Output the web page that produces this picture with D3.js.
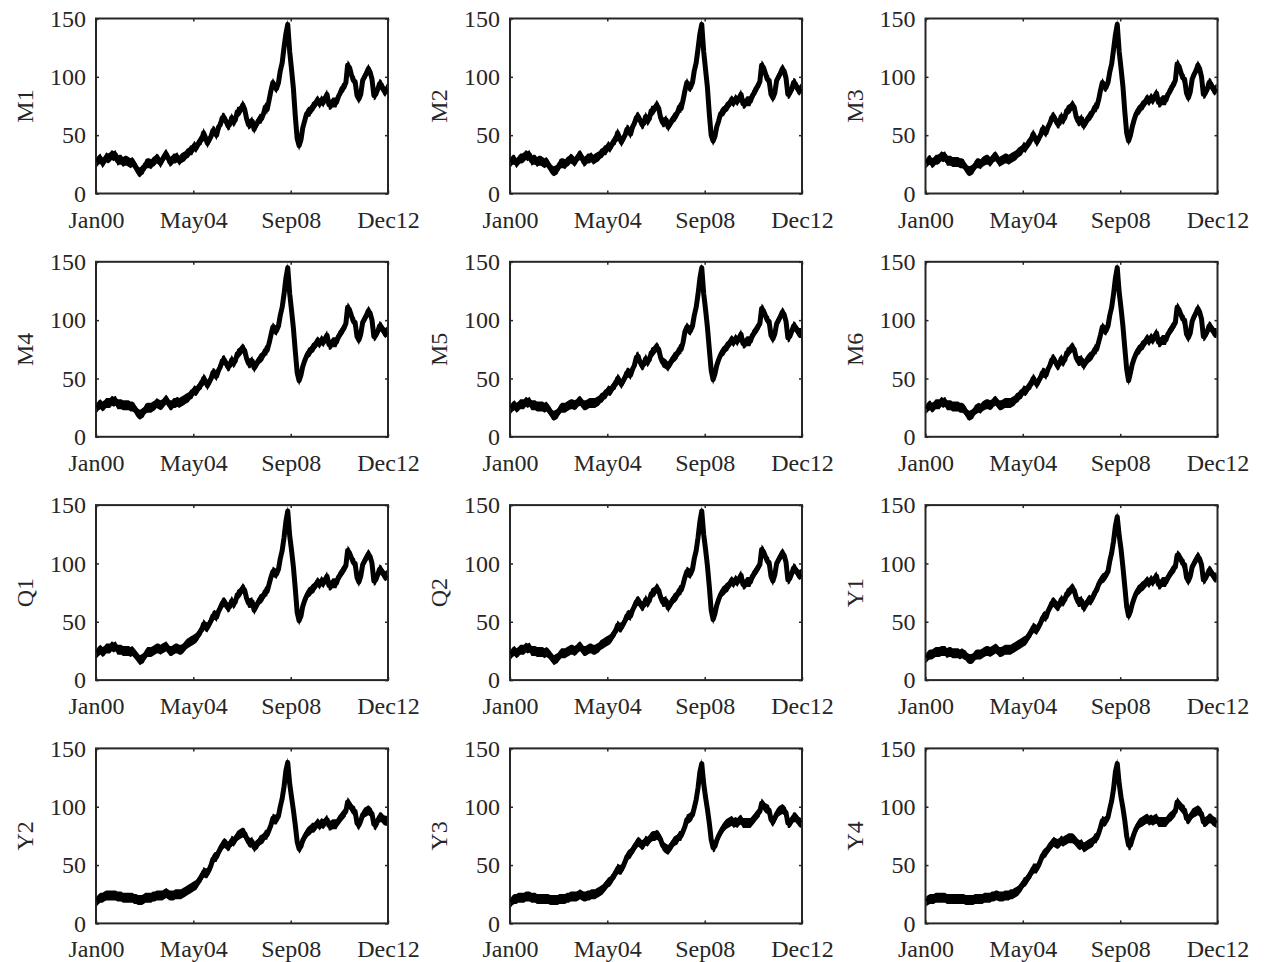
<!DOCTYPE html>
<html>
<head>
<meta charset="utf-8">
<script src="https://cdn.jsdelivr.net/npm/d3@7"></script>
<style>
  body { margin: 0; background: #fff; }
</style>
</head>
<body>
<div id="chart"></div>
<script>
// Monthly values, Jan 2000 .. Dec 2012 (one row per year)
var M1 = [
  27,29,30,26,28,31,30,31,33,32,33,28,
  29,29,27,28,28,27,26,27,25,22,19,18,
  20,21,25,26,26,25,27,28,30,29,26,29,
  32,34,31,27,28,30,30,31,28,30,31,32,
  34,35,37,37,41,39,42,45,46,52,48,43,
  46,49,54,53,50,57,59,65,65,62,58,59,
  65,61,63,70,70,72,76,72,64,59,60,62,
  55,59,61,64,64,68,74,72,80,88,95,92,
  90,95,105,112,125,137,145,122,106,90,66,47,
  41,46,56,62,68,70,70,74,75,78,80,77,
  80,78,82,85,76,76,78,78,78,83,86,90,
  91,95,110,108,102,97,96,84,81,85,97,100,
  103,107,104,98,84,85,89,94,93,89,87,90];

var M2 = [
  27,29,29,26,28,30,30,31,33,32,33,28,
  29,29,27,28,28,27,26,27,25,22,20,19,
  20,21,25,26,26,25,27,28,30,29,27,29,
  32,33,31,27,28,30,30,31,29,30,31,32,
  34,35,37,37,41,39,42,45,46,52,48,44,
  47,50,55,54,51,57,60,65,66,63,59,60,
  66,62,64,71,71,73,76,73,65,61,61,63,
  57,60,62,65,66,69,74,73,80,88,95,92,
  91,95,105,112,124,137,145,122,106,91,68,50,
  45,49,57,62,68,70,71,74,75,78,80,78,
  81,79,82,85,77,77,79,79,79,84,86,90,
  92,96,110,108,103,98,97,85,82,86,97,100,
  103,107,105,99,85,86,89,95,94,90,88,90];

var M3 = [
  26,28,29,26,27,29,29,30,32,31,32,28,
  28,28,27,27,27,27,26,26,25,22,20,19,
  20,21,24,26,26,25,27,28,29,29,27,29,
  31,32,30,27,28,29,30,30,29,30,31,32,
  33,35,36,37,40,39,42,44,46,51,48,44,
  47,50,55,54,52,57,60,65,66,63,60,60,
  66,63,65,71,72,73,76,74,66,62,62,64,
  58,61,63,66,67,70,74,74,80,88,95,92,
  91,95,104,111,123,136,145,122,107,92,70,52,
  45,50,57,63,68,71,72,75,76,79,81,79,
  82,80,83,86,78,78,80,80,80,85,87,91,
  93,97,111,109,104,99,98,86,82,87,98,102,
  105,110,107,100,85,86,89,95,94,90,88,90];

var M4 = [
  25,27,28,26,27,29,29,29,31,30,31,28,
  28,28,27,27,27,27,26,26,25,22,20,19,
  20,21,24,25,25,25,26,27,29,28,27,28,
  30,32,30,27,27,29,29,30,29,30,31,32,
  33,34,36,37,40,39,41,44,45,50,48,44,
  47,50,55,54,52,57,60,65,66,63,60,61,
  66,63,65,71,72,74,76,74,67,63,63,65,
  59,62,64,67,68,70,74,74,80,87,94,92,
  91,95,104,111,122,136,145,123,108,93,73,55,
  48,53,60,65,69,72,73,76,77,80,82,80,
  83,81,84,87,79,79,81,81,81,86,88,91,
  93,97,111,109,104,99,98,86,83,88,98,101,
  104,108,106,100,86,87,90,95,94,91,89,90];

var M5 = [
  24,26,27,25,26,28,28,28,30,29,30,27,
  27,27,26,26,26,26,25,26,24,22,19,18,
  19,20,23,25,25,25,26,27,28,28,27,28,
  30,31,29,27,27,28,29,29,29,29,30,31,
  33,34,36,37,40,39,41,44,45,50,48,45,
  48,51,55,55,53,58,61,68,69,64,61,62,
  67,64,66,72,73,75,77,75,68,64,63,62,
  60,63,65,68,69,71,75,75,81,90,94,92,
  91,95,104,111,122,136,145,123,109,94,75,57,
  49,54,61,66,70,73,74,77,78,81,83,81,
  84,82,85,88,80,80,82,82,82,87,89,92,
  94,97,110,108,104,100,99,87,84,88,97,100,
  103,107,105,99,85,86,90,95,94,91,89,89];

var M6 = [
  24,26,27,25,26,28,28,28,30,29,30,27,
  27,27,26,26,26,26,25,25,24,22,19,18,
  19,20,23,24,25,24,26,27,28,28,27,28,
  30,31,29,27,27,28,29,29,29,29,30,31,
  33,34,36,37,40,39,41,44,45,50,48,45,
  48,51,55,55,53,58,61,66,67,64,61,62,
  67,64,66,72,73,75,77,75,68,65,65,66,
  61,64,66,68,69,71,75,75,81,87,94,92,
  91,95,104,111,122,136,145,124,110,95,76,58,
  48,55,62,67,71,74,75,78,79,82,84,82,
  85,83,86,89,81,81,83,83,83,88,90,93,
  95,98,111,109,105,101,100,88,85,89,99,103,
  106,110,107,101,86,87,90,95,94,91,89,89];

var Q1 = [
  23,25,26,24,25,27,27,27,29,28,29,26,
  26,26,25,25,25,25,24,25,23,21,19,17,
  18,19,22,24,24,24,25,26,27,27,26,27,
  28,29,27,25,25,26,27,27,26,26,27,29,
  31,32,33,34,35,36,38,41,43,48,46,45,
  48,51,55,56,54,59,62,66,67,65,62,63,
  68,65,67,73,74,76,79,77,70,66,66,67,
  60,63,66,69,70,72,76,76,82,88,93,92,
  91,95,104,111,122,136,145,124,111,97,78,58,
  51,55,63,68,72,75,76,78,79,82,84,82,
  85,83,86,89,81,81,83,83,83,88,90,93,
  95,98,111,109,105,101,100,88,84,89,99,102,
  105,108,106,100,85,86,90,95,94,91,89,90];

var Q2 = [
  22,24,25,23,24,26,26,26,28,27,28,25,
  25,25,24,24,24,24,23,24,23,21,19,17,
  18,19,21,23,23,23,24,25,26,26,25,26,
  28,29,27,25,25,26,27,27,26,26,27,28,
  30,31,32,33,34,35,37,40,42,47,45,45,
  48,51,55,56,55,60,63,67,68,66,63,64,
  69,66,68,74,75,76,79,77,71,67,67,68,
  62,65,67,70,71,73,77,77,82,88,93,92,
  91,95,104,111,122,136,145,125,112,98,80,60,
  52,57,64,69,73,76,77,79,80,83,85,83,
  86,84,87,90,82,82,84,84,84,89,91,94,
  96,99,112,110,106,102,101,89,85,90,100,103,
  106,109,107,101,86,87,91,96,95,92,90,91];

var Y1 = [
  19,21,22,22,23,24,24,24,25,25,25,23,
  24,24,23,23,23,23,22,23,22,21,19,18,
  18,19,21,22,22,22,23,24,25,25,24,25,
  26,27,26,24,24,25,26,26,26,26,27,28,
  29,30,31,32,33,34,36,39,41,45,44,43,
  46,49,53,55,54,59,62,66,67,65,63,64,
  69,67,69,74,75,77,79,77,71,67,67,68,
  62,64,67,69,68,71,75,77,82,85,87,88,
  90,93,102,109,119,132,140,124,112,97,80,63,
  55,59,65,70,74,77,78,80,81,83,85,83,
  86,84,87,89,82,82,84,84,84,88,90,93,
  95,97,107,106,104,100,99,88,85,89,97,100,
  103,106,104,99,86,87,90,94,93,90,88,88];

var Y2 = [
  19,21,22,22,23,24,24,24,24,24,24,23,
  23,23,22,22,22,22,22,22,21,21,20,20,
  20,21,22,22,22,22,23,23,24,24,24,24,
  25,26,25,24,24,24,25,25,25,25,26,27,
  28,29,30,31,32,33,35,38,40,44,43,43,
  46,50,55,57,57,61,64,67,69,68,66,67,
  71,70,72,75,76,77,78,77,73,70,69,70,
  65,67,68,71,72,73,76,76,80,84,90,89,
  89,92,100,107,117,131,138,120,108,97,84,70,
  64,66,71,74,77,79,80,82,82,84,86,84,
  86,85,87,89,84,84,85,85,85,88,90,92,
  94,96,104,102,99,97,96,86,84,88,93,95,
  96,97,96,94,85,84,88,91,91,89,88,88];

var Y3 = [
  18,20,21,21,22,22,22,22,23,23,23,22,
  22,22,21,21,21,21,21,21,21,20,20,20,
  20,20,21,21,21,21,22,22,23,23,23,23,
  24,25,24,23,23,24,24,25,25,25,26,27,
  28,29,31,33,35,36,38,41,43,47,46,46,
  49,53,57,59,60,63,65,68,70,69,67,68,
  71,70,72,74,75,75,76,75,72,67,65,64,
  63,65,67,70,71,72,75,75,79,83,89,90,
  91,93,99,106,116,130,137,120,108,98,86,72,
  65,66,71,75,78,81,83,85,86,87,88,86,
  87,86,88,89,86,86,86,86,86,88,90,92,
  94,96,103,101,99,98,97,89,87,90,94,96,
  97,98,97,95,86,86,88,91,91,89,87,86];

var Y4 = [
  19,20,21,21,21,22,22,22,22,22,22,21,
  21,21,21,21,21,21,21,21,21,20,20,20,
  20,20,21,21,21,21,21,22,22,22,22,23,
  23,24,24,23,23,23,24,24,24,25,25,26,
  27,28,30,32,35,36,38,41,43,47,47,47,
  50,54,58,60,61,64,66,68,70,69,68,69,
  71,70,71,72,73,73,73,72,70,68,67,68,
  65,66,67,68,69,70,73,73,77,82,88,87,
  88,91,98,105,115,130,137,120,108,99,88,75,
  67,67,72,77,81,84,86,87,88,89,90,88,
  89,88,89,90,87,87,87,87,87,89,91,92,
  94,96,104,102,100,98,97,90,89,91,94,95,
  96,97,96,94,87,87,88,90,90,88,87,86];

var panelNames = ["M1", "M2", "M3", "M4", "M5", "M6", "Q1", "Q2", "Y1", "Y2", "Y3", "Y4"];
var panelSeries = [M1, M2, M3, M4, M5, M6, Q1, Q2, Y1, Y2, Y3, Y4];
var yTicks = [0, 50, 100, 150];
var xTickDates = [new Date(2000, 0, 1), new Date(2004, 4, 1), new Date(2008, 8, 1), new Date(2012, 11, 31)];
var startDate = new Date(2000, 0, 1);
var endDate = new Date(2012, 11, 31);

// Layout
var width = 1264;
var height = 962;
var colLeft = [96, 510, 925.5];
var rowTop = [18.5, 261.8, 505.1, 748.4];
var plotW = 292;
var plotH = 175;
var band = 5;          // half thickness of the noisy trace, in px
var axisColor = "#262626";
var fontFamily = '"Liberation Serif", "Times New Roman", Times, serif';

var svg = d3.select("#chart")
    .append("svg")
    .attr("width", width)
    .attr("height", height);

// one date per month, placed mid-month
var months = d3.timeMonth.range(startDate, new Date(2013, 0, 1))
    .map(function(d) { return d3.timeDay.offset(d, 14); });

var x = d3.scaleTime()
    .domain([startDate, endDate])
    .range([0, plotW]);

var y = d3.scaleLinear()
    .domain([0, 150])
    .range([plotH, 0]);

var area = d3.area()
    .x(function(d) { return x(d.date); })
    .y0(function(d) { return y(d.value) + band; })
    .y1(function(d) { return y(d.value) - band; });

var line = d3.line()
    .x(function(d) { return x(d.date); })
    .y(function(d) { return y(d.value); });

panelSeries.forEach(function(values, i) {
    var col = i % 3;
    var row = Math.floor(i / 3);
    var data = values.map(function(v, k) { return { date: months[k], value: v }; });

    var g = svg.append("g")
        .attr("transform", `translate(${colLeft[col]}, ${rowTop[row]})`);

    svg.append("clipPath")
        .attr("id", "clip" + i)
        .append("rect")
        .attr("x", colLeft[col])
        .attr("y", rowTop[row])
        .attr("width", plotW)
        .attr("height", plotH);

    var plot = svg.append("g")
        .attr("clip-path", "url(#clip" + i + ")")
        .append("g")
        .attr("transform", `translate(${colLeft[col]}, ${rowTop[row]})`);

    plot.append("path")
        .datum(data)
        .attr("d", area)
        .attr("fill", "#000");

    plot.append("path")
        .datum(data)
        .attr("d", line)
        .attr("fill", "none")
        .attr("stroke", "#000")
        .attr("stroke-width", 5)
        .attr("stroke-linejoin", "round");

    // axes with inward ticks on all four sides
    var fmt = d3.timeFormat("%b%y");

    var xb = svg.append("g")
        .attr("transform", `translate(${colLeft[col]}, ${rowTop[row] + plotH})`)
        .call(d3.axisBottom(x).tickValues(xTickDates).tickSize(-3).tickPadding(17).tickFormat(fmt));
    var xt = svg.append("g")
        .attr("transform", `translate(${colLeft[col]}, ${rowTop[row]})`)
        .call(d3.axisTop(x).tickValues(xTickDates).tickSize(-3).tickFormat(""));
    var yl = svg.append("g")
        .attr("transform", `translate(${colLeft[col]}, ${rowTop[row]})`)
        .call(d3.axisLeft(y).tickValues(yTicks).tickSize(-3).tickPadding(10));
    var yr = svg.append("g")
        .attr("transform", `translate(${colLeft[col] + plotW}, ${rowTop[row]})`)
        .call(d3.axisRight(y).tickValues(yTicks).tickSize(-3).tickFormat(""));

    [xb, xt, yl, yr].forEach(function(a) {
        a.select(".domain").remove();
        a.attr("color", axisColor)
            .attr("font-family", fontFamily)
            .attr("font-size", 24);
        a.selectAll(".tick line").attr("stroke-width", 1.5);
    });

    // box
    g.append("rect")
        .attr("width", plotW)
        .attr("height", plotH)
        .attr("fill", "none")
        .attr("stroke", axisColor)
        .attr("stroke-width", 2);

    // y label
    g.append("text")
        .attr("transform", `translate(-63, ${plotH / 2}) rotate(-90)`)
        .attr("text-anchor", "middle")
        .attr("font-family", fontFamily)
        .attr("font-size", 24)
        .attr("fill", axisColor)
        .text(panelNames[i]);
});
</script>
</body>
</html>
